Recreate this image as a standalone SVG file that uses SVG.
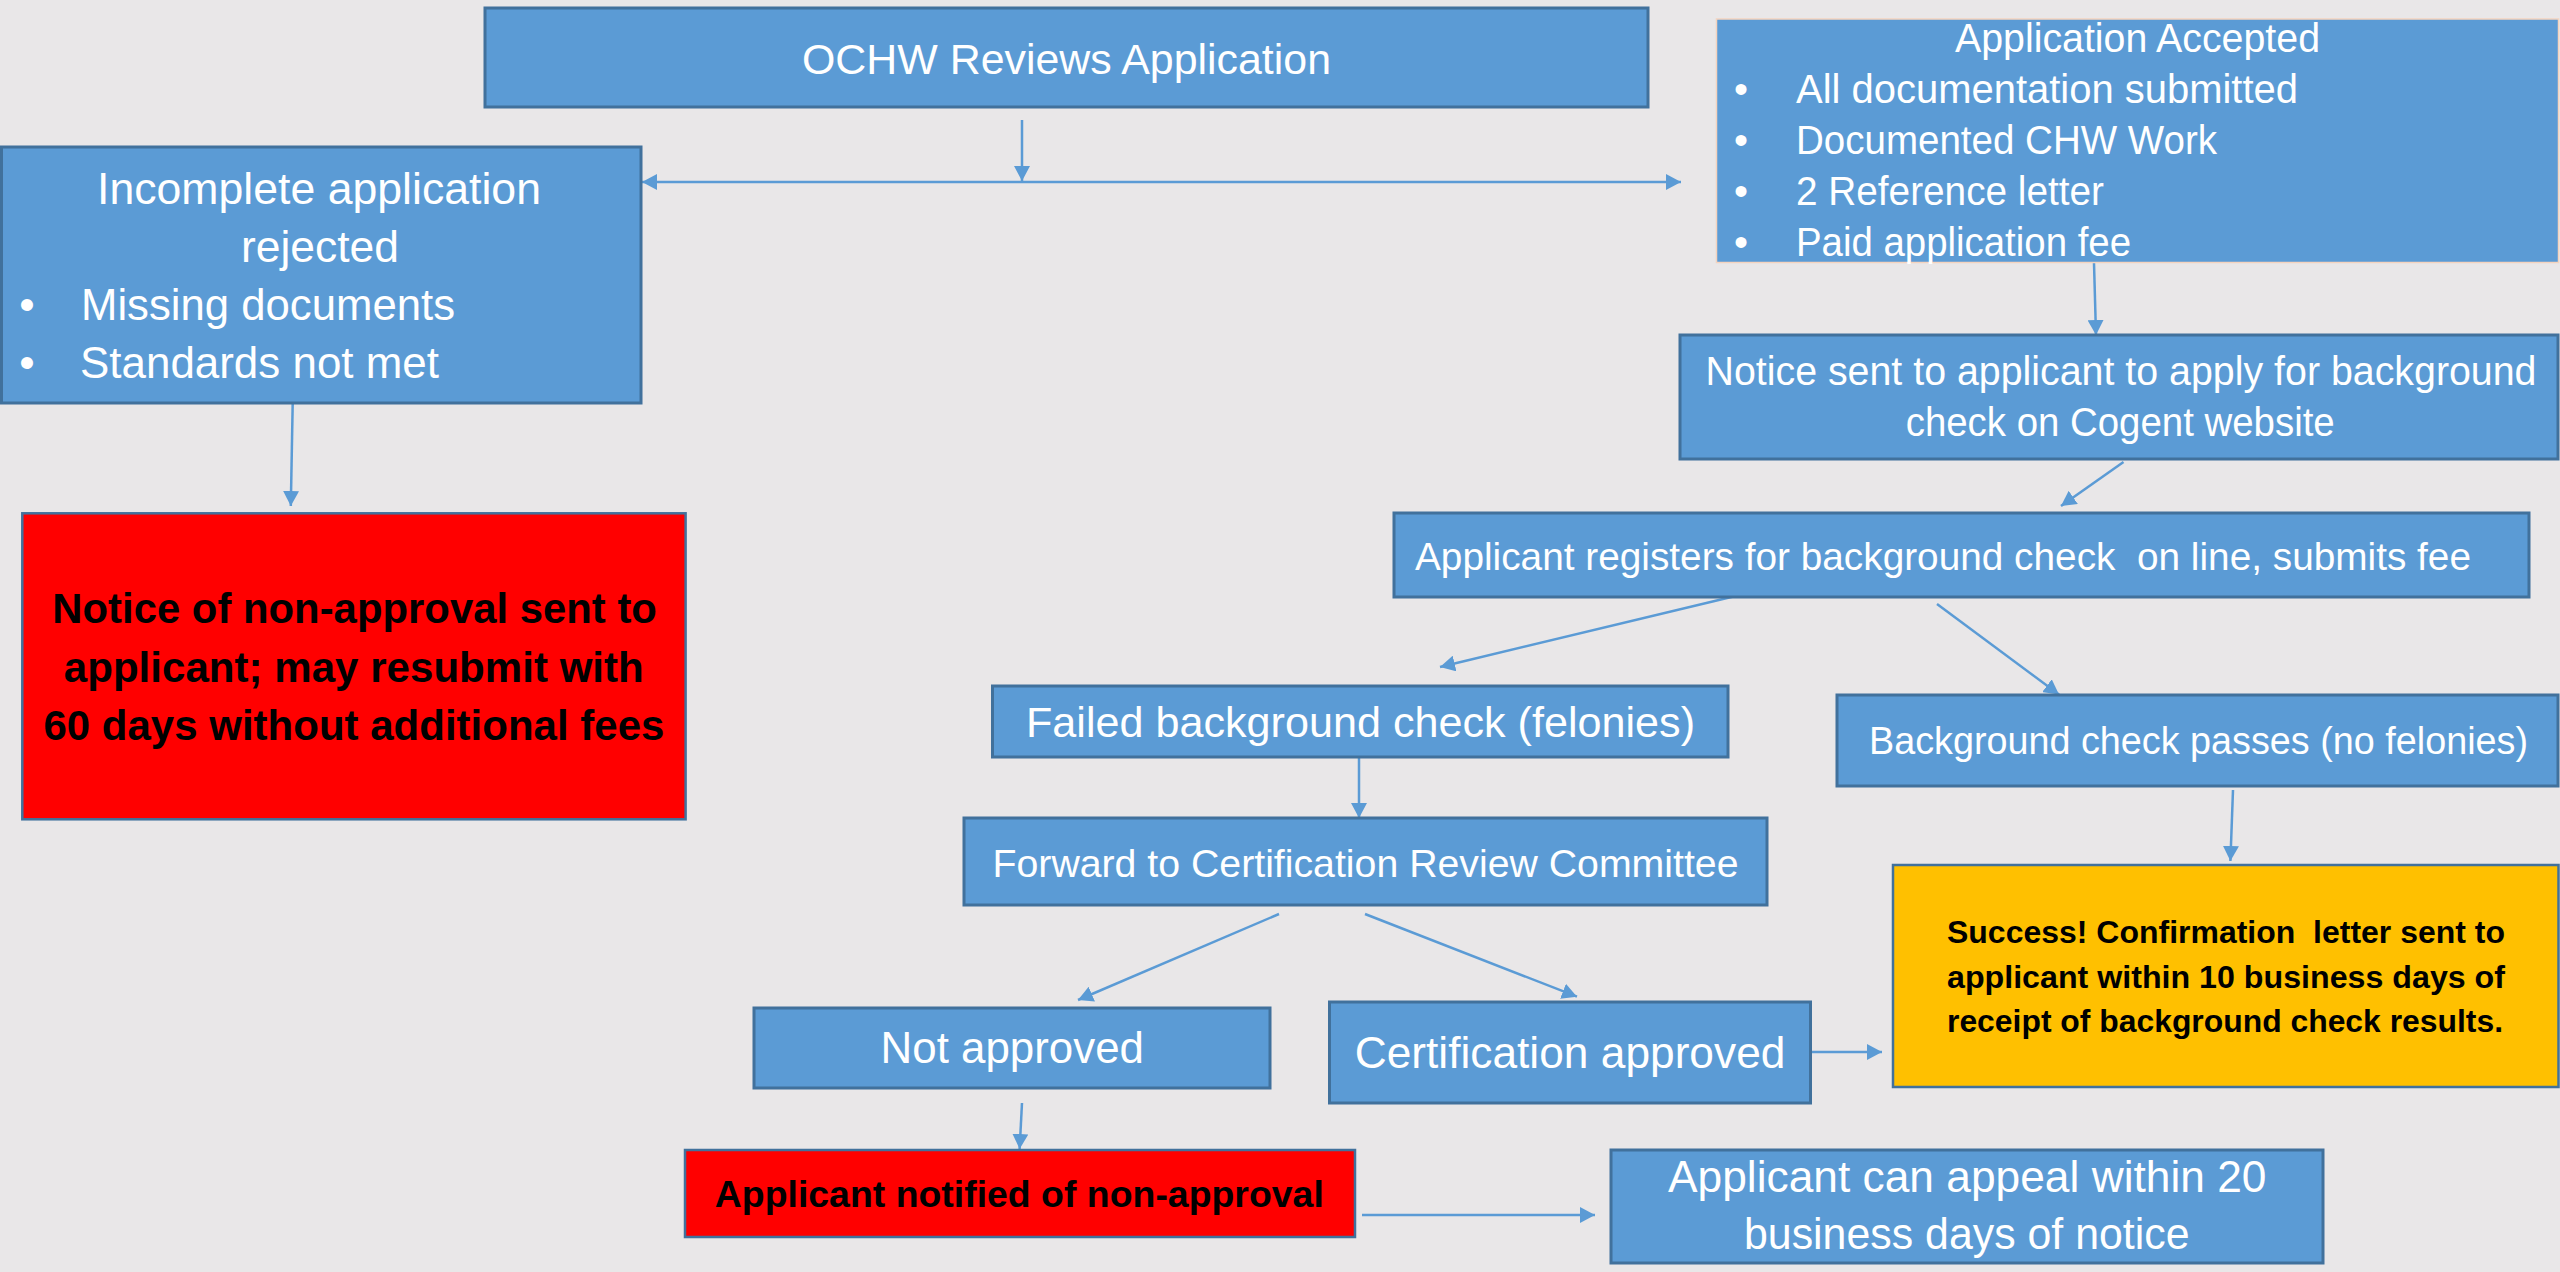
<svg xmlns="http://www.w3.org/2000/svg" width="2560" height="1272" viewBox="0 0 2560 1272">
<style>
.bg{fill:#E9E7E8}
.box{fill:#5B9BD5;stroke:#41719C;stroke-width:3}
.boxl{fill:#5B9BD5;stroke:#F4D3BE;stroke-width:1.5}
.red{fill:#FF0000;stroke:#41719C;stroke-width:2.5}
.yel{fill:#FFC000;stroke:#41719C;stroke-width:2.5}
.t{font-family:"Liberation Sans",Arial,sans-serif;fill:#FFFFFF}
.b{font-family:"Liberation Sans",Arial,sans-serif;font-weight:bold;fill:#000000}
.c{text-anchor:middle}
.ln{stroke:#5B9BD5;stroke-width:2.5;fill:none;marker-end:url(#ah)}
</style>
<defs>
<marker id="ah" markerUnits="userSpaceOnUse" markerWidth="16" markerHeight="16" refX="15" refY="8" orient="auto-start-reverse" viewBox="0 0 16 16">
<path d="M0,0 L15,8 L0,16 Z" fill="#5B9BD5"/>
</marker>
</defs>
<rect class="bg" x="0" y="0" width="2560" height="1272"/>

<g id="connectors">
<line class="ln" x1="1022" y1="120" x2="1022" y2="181"/>
<line class="ln" x1="642" y1="182" x2="1681" y2="182" style="marker-start:url(#ah)"/>
<line class="ln" x1="292.7" y1="403" x2="290.8" y2="506"/>
<line class="ln" x1="2094" y1="263" x2="2096" y2="335"/>
<line class="ln" x1="2123.5" y1="462" x2="2061" y2="506"/>
<line class="ln" x1="1735.5" y1="596" x2="1440" y2="667"/>
<line class="ln" x1="1937" y1="604" x2="2059" y2="694.6"/>
<line class="ln" x1="1359" y1="757" x2="1359" y2="818"/>
<line class="ln" x1="1279" y1="914" x2="1078" y2="1000"/>
<line class="ln" x1="1365" y1="914" x2="1577" y2="996.7"/>
<line class="ln" x1="1812" y1="1052" x2="1882" y2="1052"/>
<line class="ln" x1="2233" y1="790" x2="2230.4" y2="861"/>
<line class="ln" x1="1022" y1="1103" x2="1019.6" y2="1149"/>
<line class="ln" x1="1362" y1="1215" x2="1595" y2="1215"/>
</g>

<g id="n-ochw">
<rect class="box" x="485" y="8" width="1163" height="99"/>
<text class="t" x="802" y="74" font-size="43" textLength="529" lengthAdjust="spacingAndGlyphs">OCHW Reviews Application</text>
</g>

<g id="n-incomplete">
<rect class="box" x="1.5" y="147" width="639.5" height="256"/>
<text class="t" x="97" y="204" font-size="44" textLength="444" lengthAdjust="spacingAndGlyphs">Incomplete application</text>
<text class="t" x="241" y="262" font-size="44" textLength="158" lengthAdjust="spacingAndGlyphs">rejected</text>
<text class="t c" x="27" y="320" font-size="44">•</text>
<text class="t" x="81" y="320" font-size="44" textLength="374" lengthAdjust="spacingAndGlyphs">Missing documents</text>
<text class="t c" x="27" y="378" font-size="44">•</text>
<text class="t" x="80" y="378" font-size="44" textLength="359" lengthAdjust="spacingAndGlyphs">Standards not met</text>
</g>

<g id="n-accepted">
<rect class="boxl" x="1716.5" y="19" width="842" height="243.5"/>
<text class="t" x="1955" y="52" font-size="40" textLength="365" lengthAdjust="spacingAndGlyphs">Application Accepted</text>
<text class="t c" x="1741" y="103" font-size="40">•</text>
<text class="t" x="1796" y="103" font-size="40" textLength="502" lengthAdjust="spacingAndGlyphs">All documentation submitted</text>
<text class="t c" x="1741" y="154" font-size="40">•</text>
<text class="t" x="1796" y="154" font-size="40" textLength="421" lengthAdjust="spacingAndGlyphs">Documented CHW Work</text>
<text class="t c" x="1741" y="205" font-size="40">•</text>
<text class="t" x="1796" y="205" font-size="40" textLength="308" lengthAdjust="spacingAndGlyphs">2 Reference letter</text>
<text class="t c" x="1741" y="256" font-size="40">•</text>
<text class="t" x="1796" y="256" font-size="40" textLength="335" lengthAdjust="spacingAndGlyphs">Paid application fee</text>
</g>

<g id="n-notice">
<rect class="box" x="1680" y="335" width="878" height="124"/>
<text class="t" x="1705.5" y="385" font-size="40" textLength="831" lengthAdjust="spacingAndGlyphs">Notice sent to applicant to apply for background</text>
<text class="t" x="1905.7" y="436" font-size="40" textLength="429" lengthAdjust="spacingAndGlyphs">check on Cogent website</text>
</g>

<g id="n-registers">
<rect class="box" x="1394" y="513" width="1135" height="84"/>
<text class="t" x="1415" y="570" font-size="39" textLength="1056" lengthAdjust="spacingAndGlyphs" xml:space="preserve">Applicant registers for background check  on line, submits fee</text>
</g>

<g id="n-failed">
<rect class="box" x="992.5" y="686" width="735.5" height="71"/>
<text class="t" x="1026" y="737" font-size="43" textLength="669" lengthAdjust="spacingAndGlyphs">Failed background check (felonies)</text>
</g>

<g id="n-passes">
<rect class="box" x="1837" y="695" width="721" height="91"/>
<text class="t" x="1869" y="754" font-size="38" textLength="659" lengthAdjust="spacingAndGlyphs">Background check passes (no felonies)</text>
</g>

<g id="n-forward">
<rect class="box" x="964" y="818" width="803" height="87"/>
<text class="t" x="992.5" y="877" font-size="39" textLength="746" lengthAdjust="spacingAndGlyphs">Forward to Certification Review Committee</text>
</g>

<g id="n-success">
<rect class="yel" x="1893" y="865" width="665.5" height="222"/>
<text class="b" x="1947" y="943" font-size="32" textLength="558" lengthAdjust="spacingAndGlyphs" xml:space="preserve">Success! Confirmation  letter sent to</text>
<text class="b" x="1947" y="987.5" font-size="32" textLength="558" lengthAdjust="spacingAndGlyphs">applicant within 10 business days of</text>
<text class="b" x="1947" y="1032" font-size="32" textLength="556" lengthAdjust="spacingAndGlyphs">receipt of background check results.</text>
</g>

<g id="n-notapproved">
<rect class="box" x="754" y="1008" width="516" height="80"/>
<text class="t" x="880.6" y="1063" font-size="44" textLength="263.4" lengthAdjust="spacingAndGlyphs">Not approved</text>
</g>

<g id="n-certapproved">
<rect class="box" x="1329.5" y="1002" width="481" height="101"/>
<text class="t" x="1354.7" y="1068" font-size="44" textLength="430.7" lengthAdjust="spacingAndGlyphs">Certification approved</text>
</g>

<g id="n-notified">
<rect class="red" x="685" y="1150" width="670" height="87"/>
<text class="b" x="714.8" y="1207" font-size="37" textLength="609" lengthAdjust="spacingAndGlyphs">Applicant notified of non-approval</text>
</g>

<g id="n-appeal">
<rect class="box" x="1611" y="1150" width="712" height="113"/>
<text class="t" x="1668" y="1192" font-size="44" textLength="598.5" lengthAdjust="spacingAndGlyphs">Applicant can appeal within 20</text>
<text class="t" x="1744" y="1249" font-size="44" textLength="445.5" lengthAdjust="spacingAndGlyphs">business days of notice</text>
</g>

<g id="n-nonapproval">
<rect class="red" x="22.3" y="513.3" width="663.3" height="306"/>
<text class="b" x="52.3" y="623" font-size="42" textLength="604.6" lengthAdjust="spacingAndGlyphs">Notice of non-approval sent to</text>
<text class="b" x="63.8" y="682" font-size="42" textLength="580" lengthAdjust="spacingAndGlyphs">applicant; may resubmit with</text>
<text class="b" x="43.4" y="740" font-size="42" textLength="621" lengthAdjust="spacingAndGlyphs">60 days without additional fees</text>
</g>
</svg>
